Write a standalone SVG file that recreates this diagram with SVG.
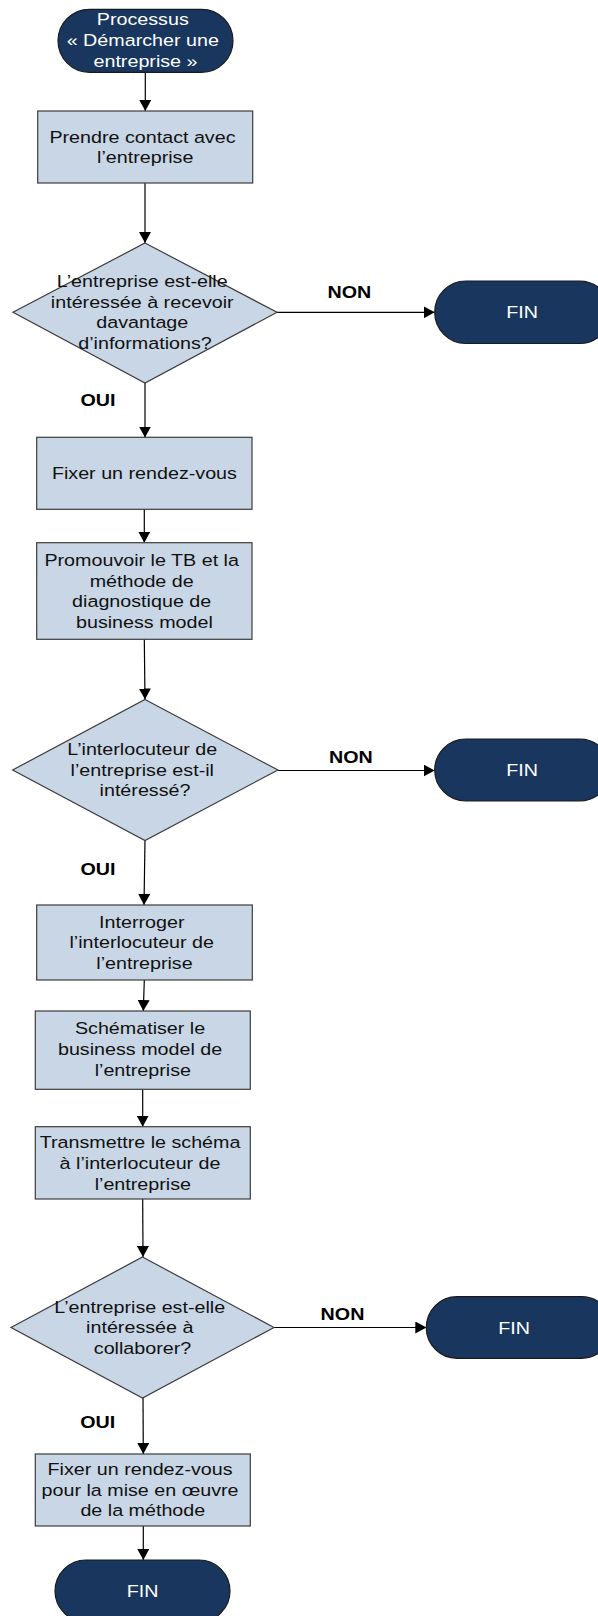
<svg xmlns="http://www.w3.org/2000/svg" width="598" height="1616" viewBox="0 0 598 1616">
  <style>
    .box { fill: #C8D6E5; stroke: #3C3C3C; stroke-width: 1.2; }
    .term { fill: #19365E; stroke: #1A1A1A; stroke-width: 1.2; }
    .t { font-family: "Liberation Sans", Arial, sans-serif; font-size: 17.2px; text-anchor: middle; fill: #111; }
    .tw { font-family: "Liberation Sans", Arial, sans-serif; font-size: 17.2px; text-anchor: middle; fill: #FFFFFF; }
    .lbl { font-family: "Liberation Sans", Arial, sans-serif; font-size: 17.2px; font-weight: bold; text-anchor: middle; fill: #000; }
    .edge { fill: none; stroke: #000; stroke-width: 1.2; marker-end: url(#arrow); }
  </style>
  <defs>
    <marker id="arrow" viewBox="0 0 11 12" refX="11" refY="6" markerWidth="11" markerHeight="12" markerUnits="userSpaceOnUse" orient="auto">
      <path d="M0,0 L11,6 L0,12 z" fill="#000"/>
    </marker>
  </defs>

  <rect width="598" height="1616" fill="#FFFFFF"/>

  <!-- connectors -->
  <g id="connectors">
    <path class="edge" d="M145.3,72 L145.3,111"/>
    <path class="edge" d="M145,183 L145,243"/>
    <path class="edge" d="M145,383 L145,437.5"/>
    <path class="edge" d="M144.3,509.3 L144.3,542.7"/>
    <path class="edge" d="M144.3,639.3 L145,699.5"/>
    <path class="edge" d="M145,840 L144,905"/>
    <path class="edge" d="M144.3,980 L143.3,1011"/>
    <path class="edge" d="M142.7,1089.3 L142.7,1126.7"/>
    <path class="edge" d="M142.7,1199 L143,1257"/>
    <path class="edge" d="M143,1398 L143.3,1454"/>
    <path class="edge" d="M143.3,1526 L143.3,1560"/>
    <path class="edge" d="M276.7,312.3 L434.7,312.3"/>
    <path class="edge" d="M277.9,770.5 L434.7,770.5"/>
    <path class="edge" d="M274,1327.5 L426.3,1327.5"/>
    <text class="lbl" transform="matrix(1.146 0 0 1 349.4 0)" x="0" y="297.7">NON</text>
    <text class="lbl" transform="matrix(1.146 0 0 1 350.8 0)" x="0" y="763.3">NON</text>
    <text class="lbl" transform="matrix(1.146 0 0 1 342.5 0)" x="0" y="1320">NON</text>
    <text class="lbl" transform="matrix(1.146 0 0 1 98 0)" x="0" y="406.5">OUI</text>
    <text class="lbl" transform="matrix(1.146 0 0 1 98 0)" x="0" y="875">OUI</text>
    <text class="lbl" transform="matrix(1.146 0 0 1 97.7 0)" x="0" y="1428.5">OUI</text>
  </g>

  <!-- start -->
  <g id="start">
    <rect class="term" x="58" y="9.3" width="175" height="63" rx="31.5" ry="31.5"/>
    <text class="tw" transform="matrix(1.146 0 0 1 145.5 0)">
      <tspan x="0" y="25.5">Processus</tspan>
      <tspan x="0" y="46.5">« Démarcher une</tspan>
      <tspan x="0" y="67.5">entreprise »</tspan>
    </text>
  </g>

  <g id="contact">
    <rect class="box" x="37.7" y="111" width="215" height="72"/>
    <text class="t" transform="matrix(1.146 0 0 1 145.2 0)">
      <tspan x="0" y="142.9">Prendre contact avec</tspan>
      <tspan x="0" y="163.4">l’entreprise</tspan>
    </text>
  </g>

  <g id="decision1">
    <polygon class="box" points="145,243 277,312.3 145,383 13,312.3"/>
    <text class="t" transform="matrix(1.146 0 0 1 145 0)">
      <tspan x="0" y="287.5">L’entreprise est-elle</tspan>
      <tspan x="0" y="308">intéressée à recevoir</tspan>
      <tspan x="0" y="328.5">davantage</tspan>
      <tspan x="0" y="349">d’informations?</tspan>
    </text>
  </g>

  <g id="fin1">
    <rect class="term" x="434.7" y="281" width="176" height="62.5" rx="31.2" ry="31.2"/>
    <text class="tw" transform="matrix(1.146 0 0 1 522 0)" x="0" y="318.3">FIN</text>
  </g>

  <g id="rdv">
    <rect class="box" x="36.7" y="437.3" width="215.3" height="72"/>
    <text class="t" transform="matrix(1.146 0 0 1 144.4 0)" x="0" y="479.4">Fixer un rendez-vous</text>
  </g>

  <g id="promouvoir">
    <rect class="box" x="36.7" y="542.7" width="215.3" height="96.6"/>
    <text class="t" transform="matrix(1.146 0 0 1 144.4 0)">
      <tspan x="0" y="566.3">Promouvoir le TB et la</tspan>
      <tspan x="0" y="586.8">méthode de</tspan>
      <tspan x="0" y="607.3">diagnostique de</tspan>
      <tspan x="0" y="627.8">business model</tspan>
    </text>
  </g>

  <g id="decision2">
    <polygon class="box" points="145,699.5 277.9,770 145,840.5 12.6,770"/>
    <text class="t" transform="matrix(1.146 0 0 1 145 0)">
      <tspan x="0" y="755.3">L’interlocuteur de</tspan>
      <tspan x="0" y="775.8">l’entreprise est-il</tspan>
      <tspan x="0" y="796.3">intéressé?</tspan>
    </text>
  </g>

  <g id="fin2">
    <rect class="term" x="434.7" y="739" width="176" height="62" rx="31" ry="31"/>
    <text class="tw" transform="matrix(1.146 0 0 1 522 0)" x="0" y="776">FIN</text>
  </g>

  <g id="interroger">
    <rect class="box" x="36.7" y="905" width="215.6" height="75"/>
    <text class="t" transform="matrix(1.146 0 0 1 144.5 0)">
      <tspan x="0" y="928">Interroger</tspan>
      <tspan x="0" y="948.5">l’interlocuteur de</tspan>
      <tspan x="0" y="969">l’entreprise</tspan>
    </text>
  </g>

  <g id="schematiser">
    <rect class="box" x="35.3" y="1011" width="215" height="78.3"/>
    <text class="t" transform="matrix(1.146 0 0 1 142.8 0)">
      <tspan x="0" y="1034.5">Schématiser le</tspan>
      <tspan x="0" y="1055.5">business model de</tspan>
      <tspan x="0" y="1076.5">l’entreprise</tspan>
    </text>
  </g>

  <g id="transmettre">
    <rect class="box" x="35.3" y="1126.7" width="215" height="72.3"/>
    <text class="t" transform="matrix(1.146 0 0 1 142.8 0)">
      <tspan x="0" y="1148.5">Transmettre le schéma</tspan>
      <tspan x="0" y="1169.3">à l’interlocuteur de</tspan>
      <tspan x="0" y="1190">l’entreprise</tspan>
    </text>
  </g>

  <g id="decision3">
    <polygon class="box" points="142.5,1257 274,1327.5 142.5,1398 11,1327.5"/>
    <text class="t" transform="matrix(1.146 0 0 1 142.5 0)">
      <tspan x="0" y="1313">L’entreprise est-elle</tspan>
      <tspan x="0" y="1333.5">intéressée à</tspan>
      <tspan x="0" y="1354">collaborer?</tspan>
    </text>
  </g>

  <g id="fin3">
    <rect class="term" x="426.3" y="1296.7" width="186" height="61.6" rx="30.8" ry="30.8"/>
    <text class="tw" transform="matrix(1.146 0 0 1 514 0)" x="0" y="1333.7">FIN</text>
  </g>

  <g id="rdv-methode">
    <rect class="box" x="35.3" y="1454" width="215" height="72"/>
    <text class="t" transform="matrix(1.146 0 0 1 142.8 0)">
      <tspan x="0" y="1475.5">Fixer un rendez-vous</tspan>
      <tspan x="0" y="1496">pour la mise en œuvre</tspan>
      <tspan x="0" y="1516.5">de la méthode</tspan>
    </text>
  </g>

  <g id="fin4">
    <rect class="term" x="55" y="1560" width="175" height="62" rx="31" ry="31"/>
    <text class="tw" transform="matrix(1.146 0 0 1 142.5 0)" x="0" y="1597">FIN</text>
  </g>
</svg>
